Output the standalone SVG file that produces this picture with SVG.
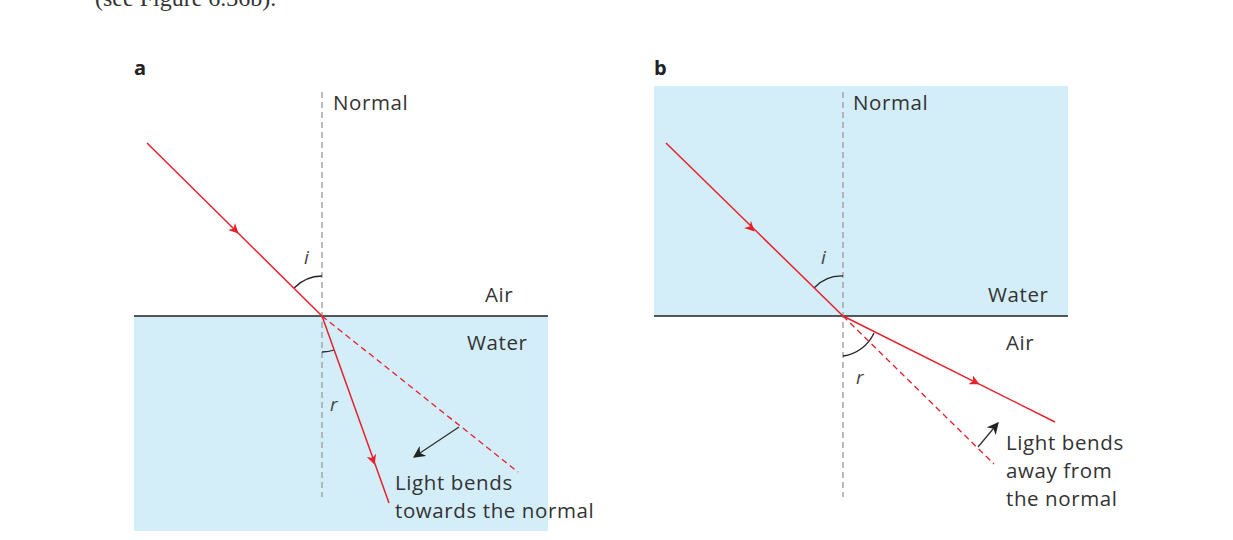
<svg xmlns="http://www.w3.org/2000/svg" width="1233" height="540" viewBox="0 0 1233 540">
<defs>
<style>
.t{font-family:"Open Sans","Liberation Sans",sans-serif;font-size:20.5px;letter-spacing:0.6px;fill:#333}
.it{font-family:"Open Sans","Liberation Sans",sans-serif;font-size:19px;fill:#444;font-style:italic}
.lab{font-family:"Open Sans","Liberation Sans",sans-serif;font-size:20px;font-weight:bold;fill:#222}
.water{fill:#d3edf9}
.surf{stroke:#222;stroke-width:1.3}
.norm{stroke:#999;stroke-width:1.3;stroke-dasharray:6,4;fill:none}
.ray{stroke:#e8202a;stroke-width:1.5;fill:none}
.mk{stroke:none;fill:none}
.dray{stroke:#e8202a;stroke-width:1.3;stroke-dasharray:6,4;fill:none}
.arc{stroke:#222;stroke-width:1.3;fill:none}
.blk{stroke:#333;stroke-width:1.3;fill:none}
</style>
<marker id="ra" viewBox="0 0 10 10" refX="5" refY="5" markerWidth="10" markerHeight="10" orient="auto" markerUnits="userSpaceOnUse"><path d="M0,0 L10,5 L0,10 L3,5 Z" fill="#e8202a"/></marker>
<marker id="ba" viewBox="0 0 10 10" refX="9" refY="5" markerWidth="12" markerHeight="12" orient="auto" markerUnits="userSpaceOnUse"><path d="M0,0 L10,5 L0,10 L3,5 Z" fill="#222"/></marker>
</defs>
<rect width="1233" height="540" fill="#fff"/>
<text x="95" y="6" style="font-family:'Liberation Serif',serif;font-size:24px;fill:#333">(see Figure 6.36b).</text>
<g id="panel-a">
<text class="lab" x="134" y="75">a</text>
<rect class="water" x="134" y="316" width="414" height="215"/>
<line class="surf" x1="134" y1="316" x2="548" y2="316"/>
<line class="norm" x1="322" y1="92" x2="322" y2="497"/>
<text class="t" x="333" y="110">Normal</text>
<text class="t" x="485" y="302">Air</text>
<text class="t" x="467" y="350">Water</text>
<path class="arc" d="M294,288 A40,40 0 0 1 322,276"/>
<path class="arc" d="M322,352 A36,36 0 0 0 334,350"/>
<text class="it" x="304" y="264">i</text>
<text class="it" x="330" y="411">r</text>
<text class="t" x="395" y="490">Light bends</text>
<text class="t" x="395" y="518">towards the normal</text>
</g>
<g id="panel-b">
<text class="lab" x="654" y="75">b</text>
<rect class="water" x="654" y="86" width="414" height="230"/>
<line class="surf" x1="654" y1="316" x2="1068" y2="316"/>
<line class="norm" x1="843" y1="92" x2="843" y2="497"/>
<text class="t" x="853" y="110">Normal</text>
<text class="t" x="988" y="302">Water</text>
<text class="t" x="1006" y="350">Air</text>
<path class="arc" d="M814,288 A38,38 0 0 1 843,276"/>
<path class="arc" d="M843,356 A40,40 0 0 0 874,333"/>
<text class="it" x="821" y="264">i</text>
<text class="it" x="856" y="384">r</text>
<text class="t" x="1006" y="450">Light bends</text>
<text class="t" x="1006" y="478">away from</text>
<text class="t" x="1006" y="506">the normal</text>
</g>
<g id="connectors">
<line class="ray" x1="147" y1="143" x2="322" y2="316"/>
<path class="mk" d="M147,143 L235,230" marker-end="url(#ra)"/>
<line class="ray" x1="322" y1="316" x2="389" y2="503"/>
<path class="mk" d="M322,316 L373,460" marker-end="url(#ra)"/>
<line class="dray" x1="322" y1="316" x2="518" y2="472"/>
<line class="blk" x1="459" y1="427" x2="414" y2="457" marker-end="url(#ba)"/>
<line class="ray" x1="666" y1="143" x2="843" y2="316"/>
<path class="mk" d="M666,143 L751,228" marker-end="url(#ra)"/>
<line class="ray" x1="843" y1="316" x2="1055" y2="422"/>
<path class="mk" d="M843,316 L975,382" marker-end="url(#ra)"/>
<line class="dray" x1="843" y1="316" x2="994" y2="464"/>
<line class="blk" x1="978" y1="447" x2="998" y2="423" marker-end="url(#ba)"/>
</g>
</svg>
